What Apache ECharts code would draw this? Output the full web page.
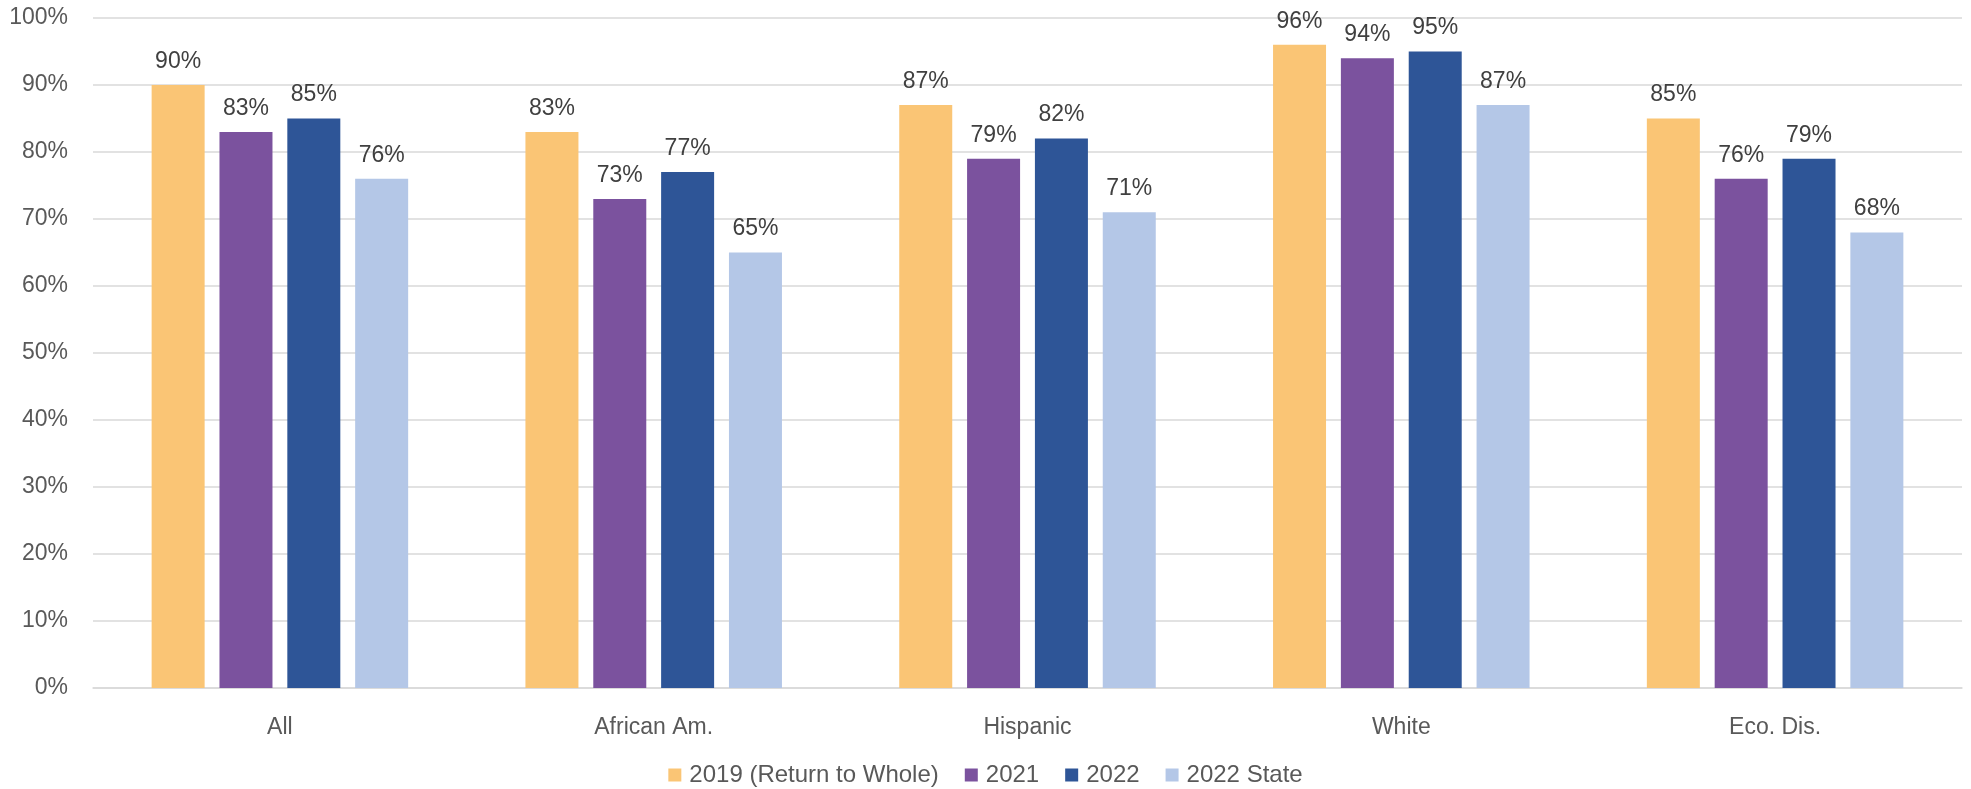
<!DOCTYPE html>
<html>
<head>
<meta charset="utf-8">
<script src="https://cdn.jsdelivr.net/npm/echarts@6/dist/echarts.min.js"></script>
<style>html,body{margin:0;padding:0;background:#fff}#c{width:1971px;height:789px}</style>
</head>
<body>
<div id="c"></div>
<script>
const categories = ['All', 'African Am.', 'Hispanic', 'White', 'Eco. Dis.'];
const seriesNames = ['2019 (Return to Whole)', '2021', '2022', '2022 State'];
const s2019 = [90, 83, 87, 96, 85];
const s2021 = [83, 73, 79, 94, 76];
const s2022 = [85, 77, 82, 95, 79];
const s2022State = [76, 65, 71, 87, 68];
const yTicks = [0, 10, 20, 30, 40, 50, 60, 70, 80, 90, 100];

const colors = ['#FAC575', '#7B529E', '#2E5597', '#B4C7E7'];
const font = 'Liberation Sans, Arial, sans-serif';
const seriesData = [s2019, s2021, s2022, s2022State];

const chart = echarts.init(document.getElementById('c'));
chart.setOption({
  animation: false,
  color: colors,
  grid: { left: 93, right: 9, top: 18, bottom: 101, containLabel: false },
  legend: {
    bottom: -3,
    left: 'center',
    itemWidth: 13, itemHeight: 13, itemGap: 26,
    icon: 'rect',
    textStyle: { fontFamily: font, fontSize: 24, color: '#595959', padding: [0, 0, 0, 3] },
    data: seriesNames
  },
  xAxis: {
    type: 'category',
    data: categories,
    axisLine: { lineStyle: { color: '#D9D9D9', width: 1.5 } },
    axisTick: { show: false },
    axisLabel: { fontFamily: font, fontSize: 23, color: '#595959', margin: 28 }
  },
  yAxis: {
    type: 'value',
    min: yTicks[0], max: yTicks[yTicks.length - 1], interval: 10,
    axisLine: { show: false },
    axisTick: { show: false },
    splitLine: { lineStyle: { color: '#D9D9D9', width: 1.5 } },
    axisLabel: { fontFamily: font, fontSize: 23, color: '#595959', margin: 25, formatter: v => v + '%' }
  },
  series: seriesNames.map((name, i) => ({
    name: name,
    type: 'bar',
    data: seriesData[i],
    barWidth: 53,
    barGap: '28%',
    itemStyle: { color: colors[i] },
    label: {
      show: true, position: 'top', distance: 12,
      fontFamily: font, fontSize: 23, color: '#404040',
      formatter: p => p.value + '%'
    }
  }))
});
</script>
</body>
</html>
